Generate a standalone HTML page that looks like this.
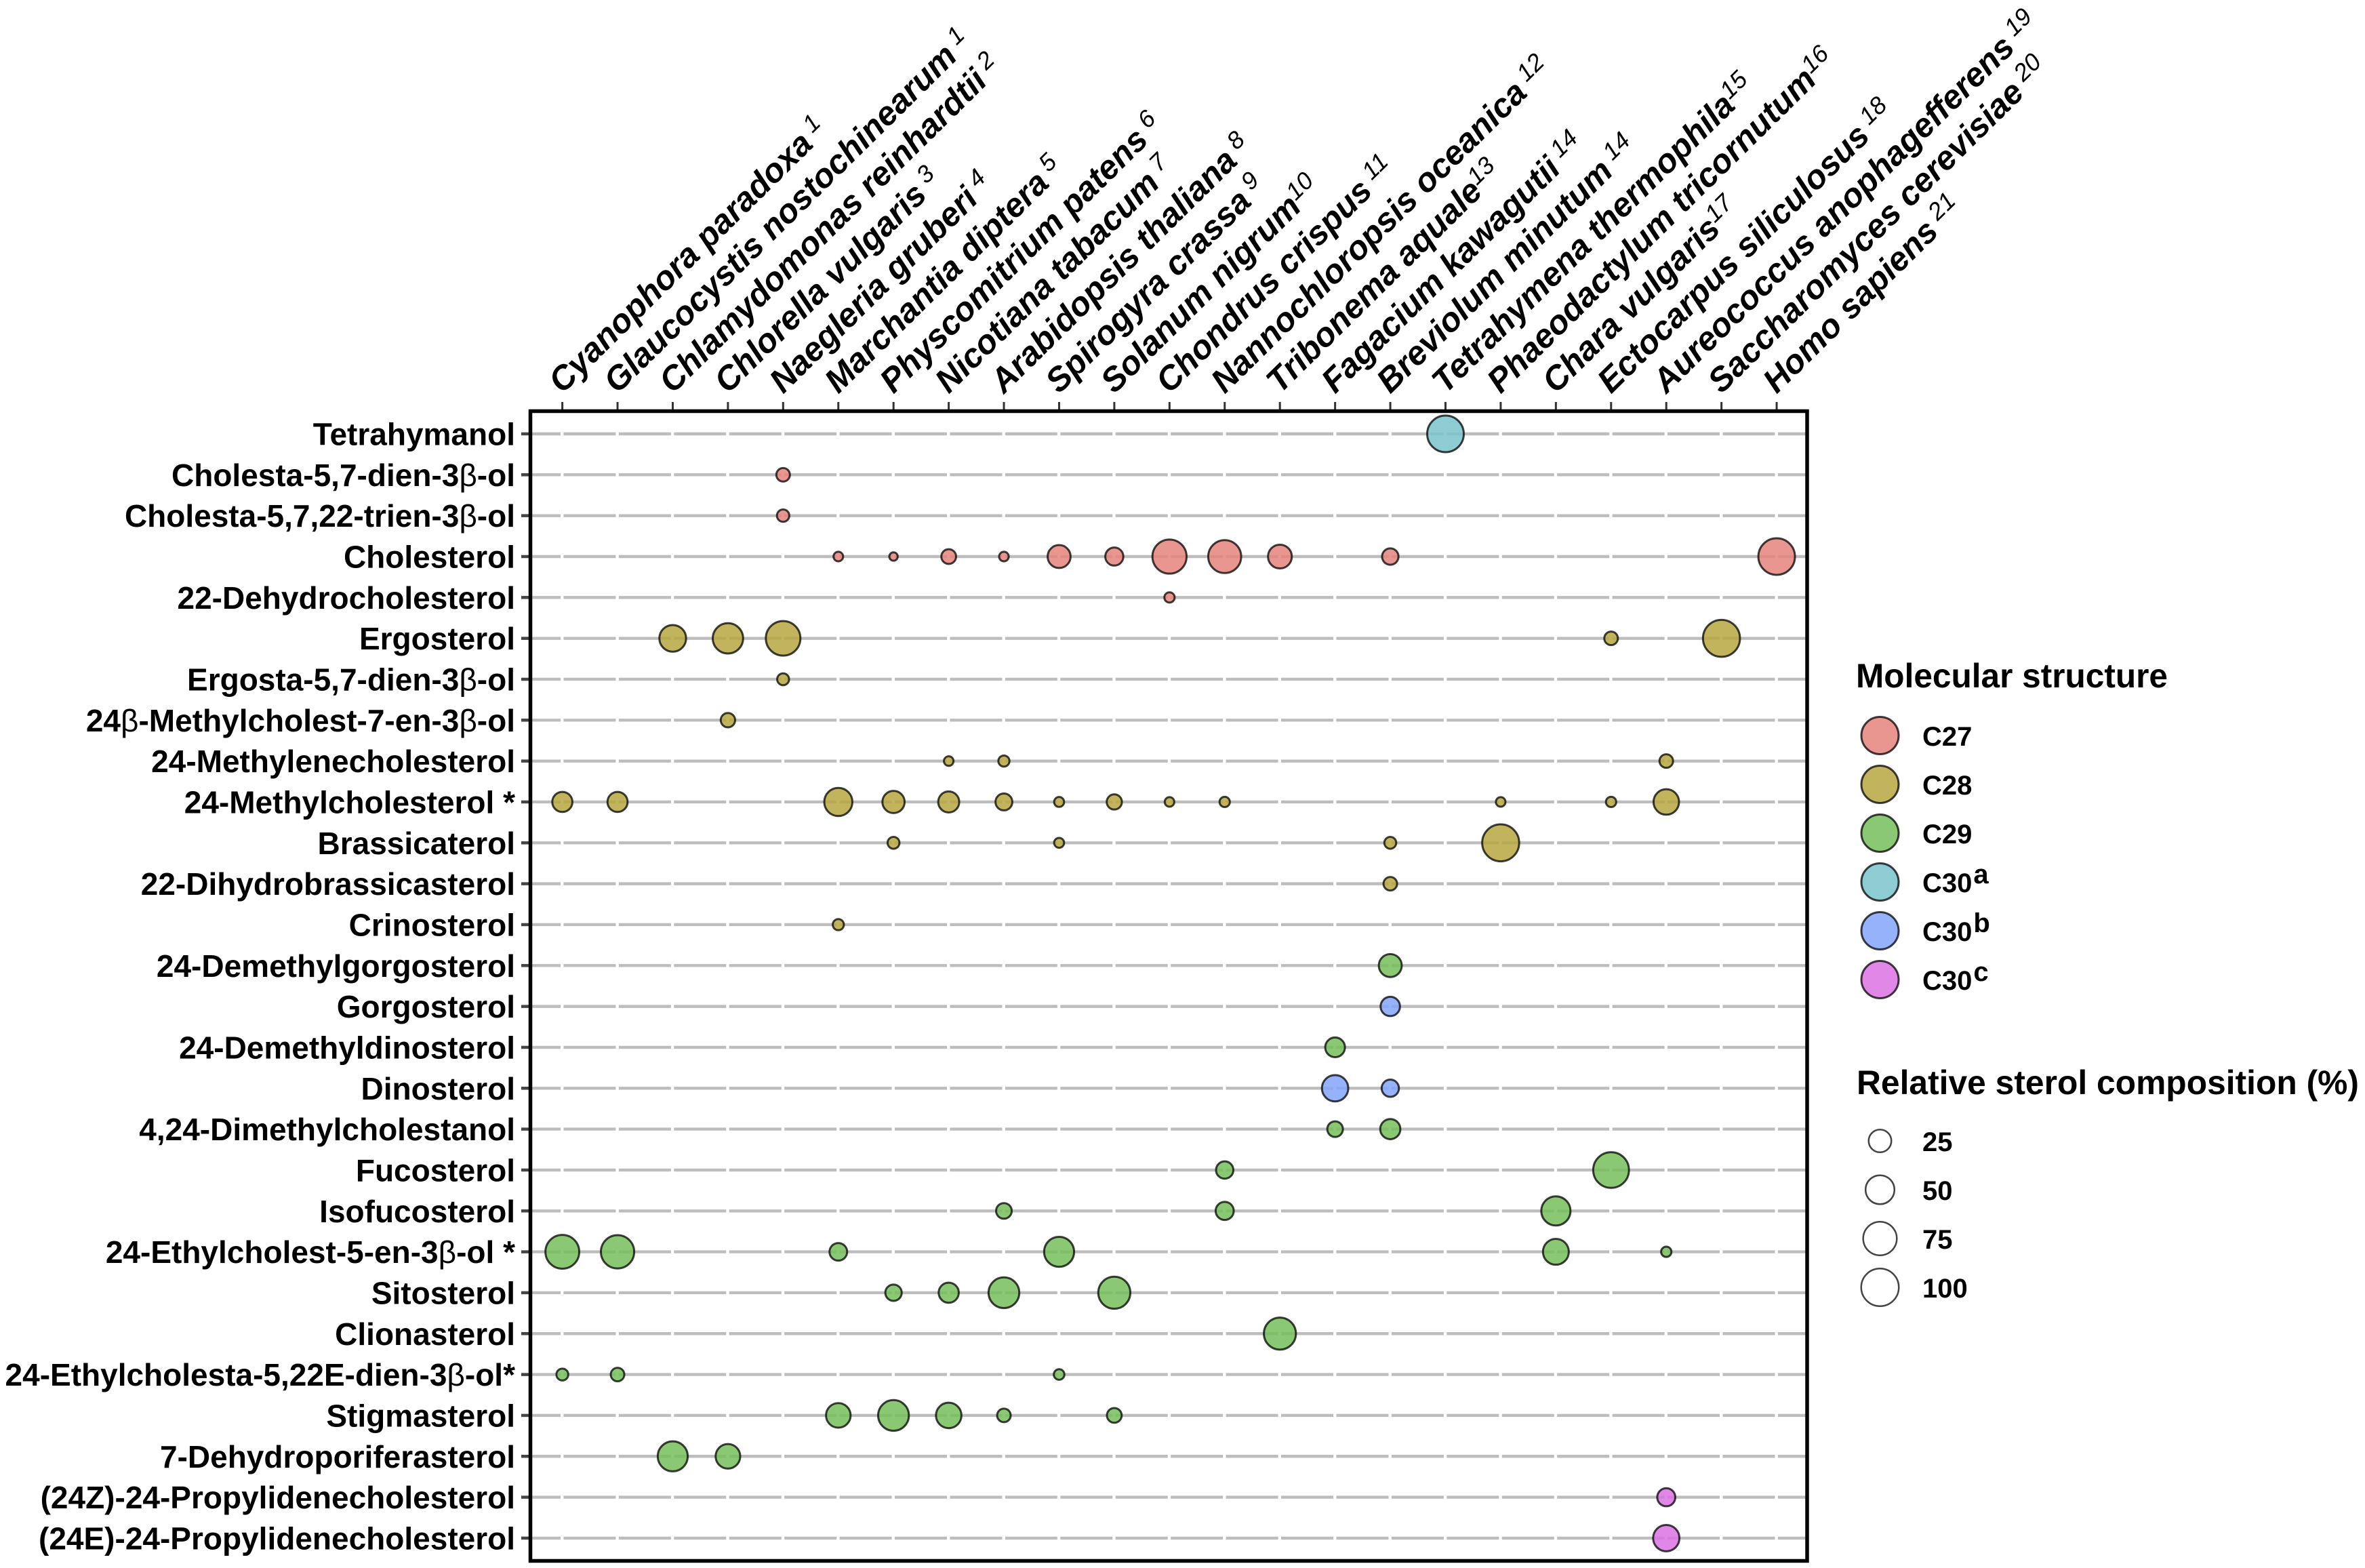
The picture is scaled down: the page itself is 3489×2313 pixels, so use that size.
<!DOCTYPE html>
<html lang="en">
<head>
<meta charset="utf-8">
<title>Sterol composition bubble chart</title>
<style>
html,body{margin:0;padding:0;background:#fff;}
svg{display:block;}
text{font-family:"Liberation Sans",sans-serif;fill:#000;white-space:pre;}
</style>
</head>
<body>
<svg id="chart" xmlns="http://www.w3.org/2000/svg" width="3489" height="2313" viewBox="0 0 3489 2313">
  <rect x="0" y="0" width="3489" height="2313" fill="#fff"/>
  <g id="grid"></g>
  <g id="ticks"></g>
  <g id="xlabels"></g>
  <g id="ylabels"></g>
  <g id="points"></g>
  <rect x="782.5" y="606.5" width="1883.5" height="1696" fill="none" stroke="#000" stroke-width="5.5"/>
  <g id="legend-structure">
    <text x="2738" y="1014" font-size="50" font-weight="700" textLength="460" lengthAdjust="spacingAndGlyphs">Molecular structure</text>
  </g>
  <g id="legend-size">
    <text x="2739" y="1614" font-size="50" font-weight="700" textLength="741" lengthAdjust="spacingAndGlyphs">Relative sterol composition (%)</text>
  </g>
</svg>
<script>
const sterols = ["Tetrahymanol","Cholesta-5,7-dien-3β-ol","Cholesta-5,7,22-trien-3β-ol","Cholesterol","22-Dehydrocholesterol","Ergosterol","Ergosta-5,7-dien-3β-ol","24β-Methylcholest-7-en-3β-ol","24-Methylenecholesterol","24-Methylcholesterol *","Brassicaterol","22-Dihydrobrassicasterol","Crinosterol","24-Demethylgorgosterol","Gorgosterol","24-Demethyldinosterol","Dinosterol","4,24-Dimethylcholestanol","Fucosterol","Isofucosterol","24-Ethylcholest-5-en-3β-ol *","Sitosterol","Clionasterol","24-Ethylcholesta-5,22E-dien-3β-ol*","Stigmasterol","7-Dehydroporiferasterol","(24Z)-24-Propylidenecholesterol","(24E)-24-Propylidenecholesterol"];
const sterolClasses = [3,0,0,0,0,1,1,1,1,1,1,1,1,2,4,2,4,2,2,2,2,2,2,2,2,2,5,5];
const species = ["Cyanophora paradoxa","Glaucocystis nostochinearum","Chlamydomonas reinhardtii","Chlorella vulgaris","Naegleria gruberi","Marchantia diptera","Physcomitrium patens","Nicotiana tabacum","Arabidopsis thaliana","Spirogyra crassa","Solanum nigrum","Chondrus crispus","Nannochloropsis oceanica","Tribonema aquale","Fagacium kawagutii","Breviolum minutum","Tetrahymena thermophila","Phaeodactylum tricornutum","Chara vulgaris","Ectocarpus siliculosus","Aureococcus anophagefferens","Saccharomyces cerevisiae","Homo sapiens"];
const speciesRefs = [" 1"," 1"," 2"," 3"," 4"," 5"," 6"," 7"," 8"," 9","10"," 11"," 12","13"," 14"," 14","15","16","17"," 18"," 19"," 20"," 21"];
const classNames = ["C27","C28","C29","C30","C30","C30"];
const classSups = ["","","","a","b","c"];
const classFills = ["rgb(228,132,123)","rgb(182,167,64)","rgb(119,190,92)","rgb(120,195,202)","rgb(132,165,249)","rgb(220,114,228)"];
const sizeBreaks = [25,50,75,100];

const pointSterol = [0,1,2,3,3,3,3,3,3,3,3,3,3,3,4,5,5,5,5,5,6,7,8,8,8,9,9,9,9,9,9,9,9,9,9,9,9,9,10,10,10,10,11,12,13,14,15,16,16,17,17,18,18,19,19,19,20,20,20,20,20,20,21,21,21,21,22,23,23,23,24,24,24,24,24,25,25,26,27];
const pointSpecies = [16,4,4,5,6,7,8,9,10,11,12,13,15,22,11,2,3,4,19,21,4,3,7,8,20,0,1,5,6,7,8,9,10,11,12,17,19,20,6,9,15,17,15,5,15,15,14,14,15,14,15,12,19,8,12,18,0,1,5,9,18,20,6,7,8,10,13,0,1,9,5,6,7,8,10,2,3,20,20];
const pointValue = [95.5,4.2,2.7,0.5,0.1,6,0.5,27,12.6,80,73,30,9,95.5,0.9,41.7,59,82.6,4.2,98,2.2,5.4,0.5,1.5,4.2,18,18,48,24.5,20.7,9.9,0.7,6.7,0.5,0.9,0.5,0.9,36.5,2.2,0.7,2.2,98,4.2,1.5,27,16,16.9,40,10.8,7.5,18,11,90,7.5,12.7,53,78,75,11.7,57,38,0.9,9,18,61,68,68,2.2,4.2,1.1,33,61,36.5,4.2,6,57,33,12.7,40];

const SVGNS = "http://www.w3.org/2000/svg";
function xScale(i){ return 829.6 + 81.43 * i; }
function yScale(i){ return 640 + 60.33 * i; }
function radius(v){ return 7 + 22 * Math.sqrt(v / 100); }
function make(tag, parent, attrs){
  const el = document.createElementNS(SVGNS, tag);
  for (const k in attrs) el.setAttribute(k, attrs[k]);
  parent.appendChild(el);
  return el;
}

const gridG = document.getElementById("grid");
const ticksG = document.getElementById("ticks");
const xG = document.getElementById("xlabels");
const yG = document.getElementById("ylabels");
const pointsG = document.getElementById("points");
const legendA = document.getElementById("legend-structure");
const legendB = document.getElementById("legend-size");

sterols.forEach(function(name, r){
  const y = yScale(r);
  const line = make("line", gridG, {x1:785, x2:2664, y1:y, y2:y, stroke:"#bdbdbd", "stroke-width":4.4, "stroke-dasharray":"77 4.43", "stroke-dashoffset":35});
  
  
  const tick = make("line", ticksG, {x1:769, x2:782, y1:y, y2:y, stroke:"#444", "stroke-width":4.5});
  
  
  const t = make("text", yG, {x:760, y:y + 16.5, "font-size":46, "font-weight":700, "text-anchor":"end"});
  
  
  name.split(/(β)/).forEach(function(part){
    if (!part) return;
    const s = make("tspan", t, part === "β" ? {"font-weight":400} : {});
    s.textContent = part;
  });
});

species.forEach(function(name, c){
  const x = xScale(c);
  const tick = make("line", ticksG, {x1:x, x2:x, y1:593, y2:606, stroke:"#333", "stroke-width":3});
  
  
  const t = make("text", xG, {x:0, y:0, transform:"translate(" + x + " 582) rotate(-44.6)", "font-size":49.5, "font-weight":700, "font-style":"italic"});
  
  
  const main = make("tspan", t, {});
  main.textContent = name;
  const sup = make("tspan", t, {"font-size":36, "font-weight":400, dy:-15});
  sup.textContent = speciesRefs[c];
});

pointValue.forEach(function(v, i){
  const r = pointSterol[i], c = pointSpecies[i];
  const circle = make("circle", pointsG, {
    cx: xScale(c), cy: yScale(r), r: radius(v) - 1.5,
    fill: classFills[sterolClasses[r]], "fill-opacity":0.85,
    stroke:"#000", "stroke-opacity":0.75, "stroke-width":3
  });
  
  
});

classNames.forEach(function(name, i){
  const cy = 1085 + 72 * i;
  const c = make("circle", legendA, {cx:2773.5, cy:cy, r:27.5, fill:classFills[i], "fill-opacity":0.85, stroke:"#000", "stroke-opacity":0.75, "stroke-width":3});
  
  
  const t = make("text", legendA, {x:2836, y:cy + 15, "font-size":40, "font-weight":700});
  
  
  const m = make("tspan", t, {});
  m.textContent = name;
  if (classSups[i]) {
    const s = make("tspan", t, {dy:-13, dx:2});
    s.textContent = classSups[i];
  }
});

sizeBreaks.forEach(function(v, i){
  const cy = 1683 + 72 * i;
  const c = make("circle", legendB, {cx:2773.5, cy:cy, r:radius(v) - 1.25, fill:"none", stroke:"#444", "stroke-width":2.5});
  
  
  const t = make("text", legendB, {x:2836, y:cy + 15, "font-size":40, "font-weight":700});
  
  
  t.textContent = String(v);
});
</script>
</body>
</html>
